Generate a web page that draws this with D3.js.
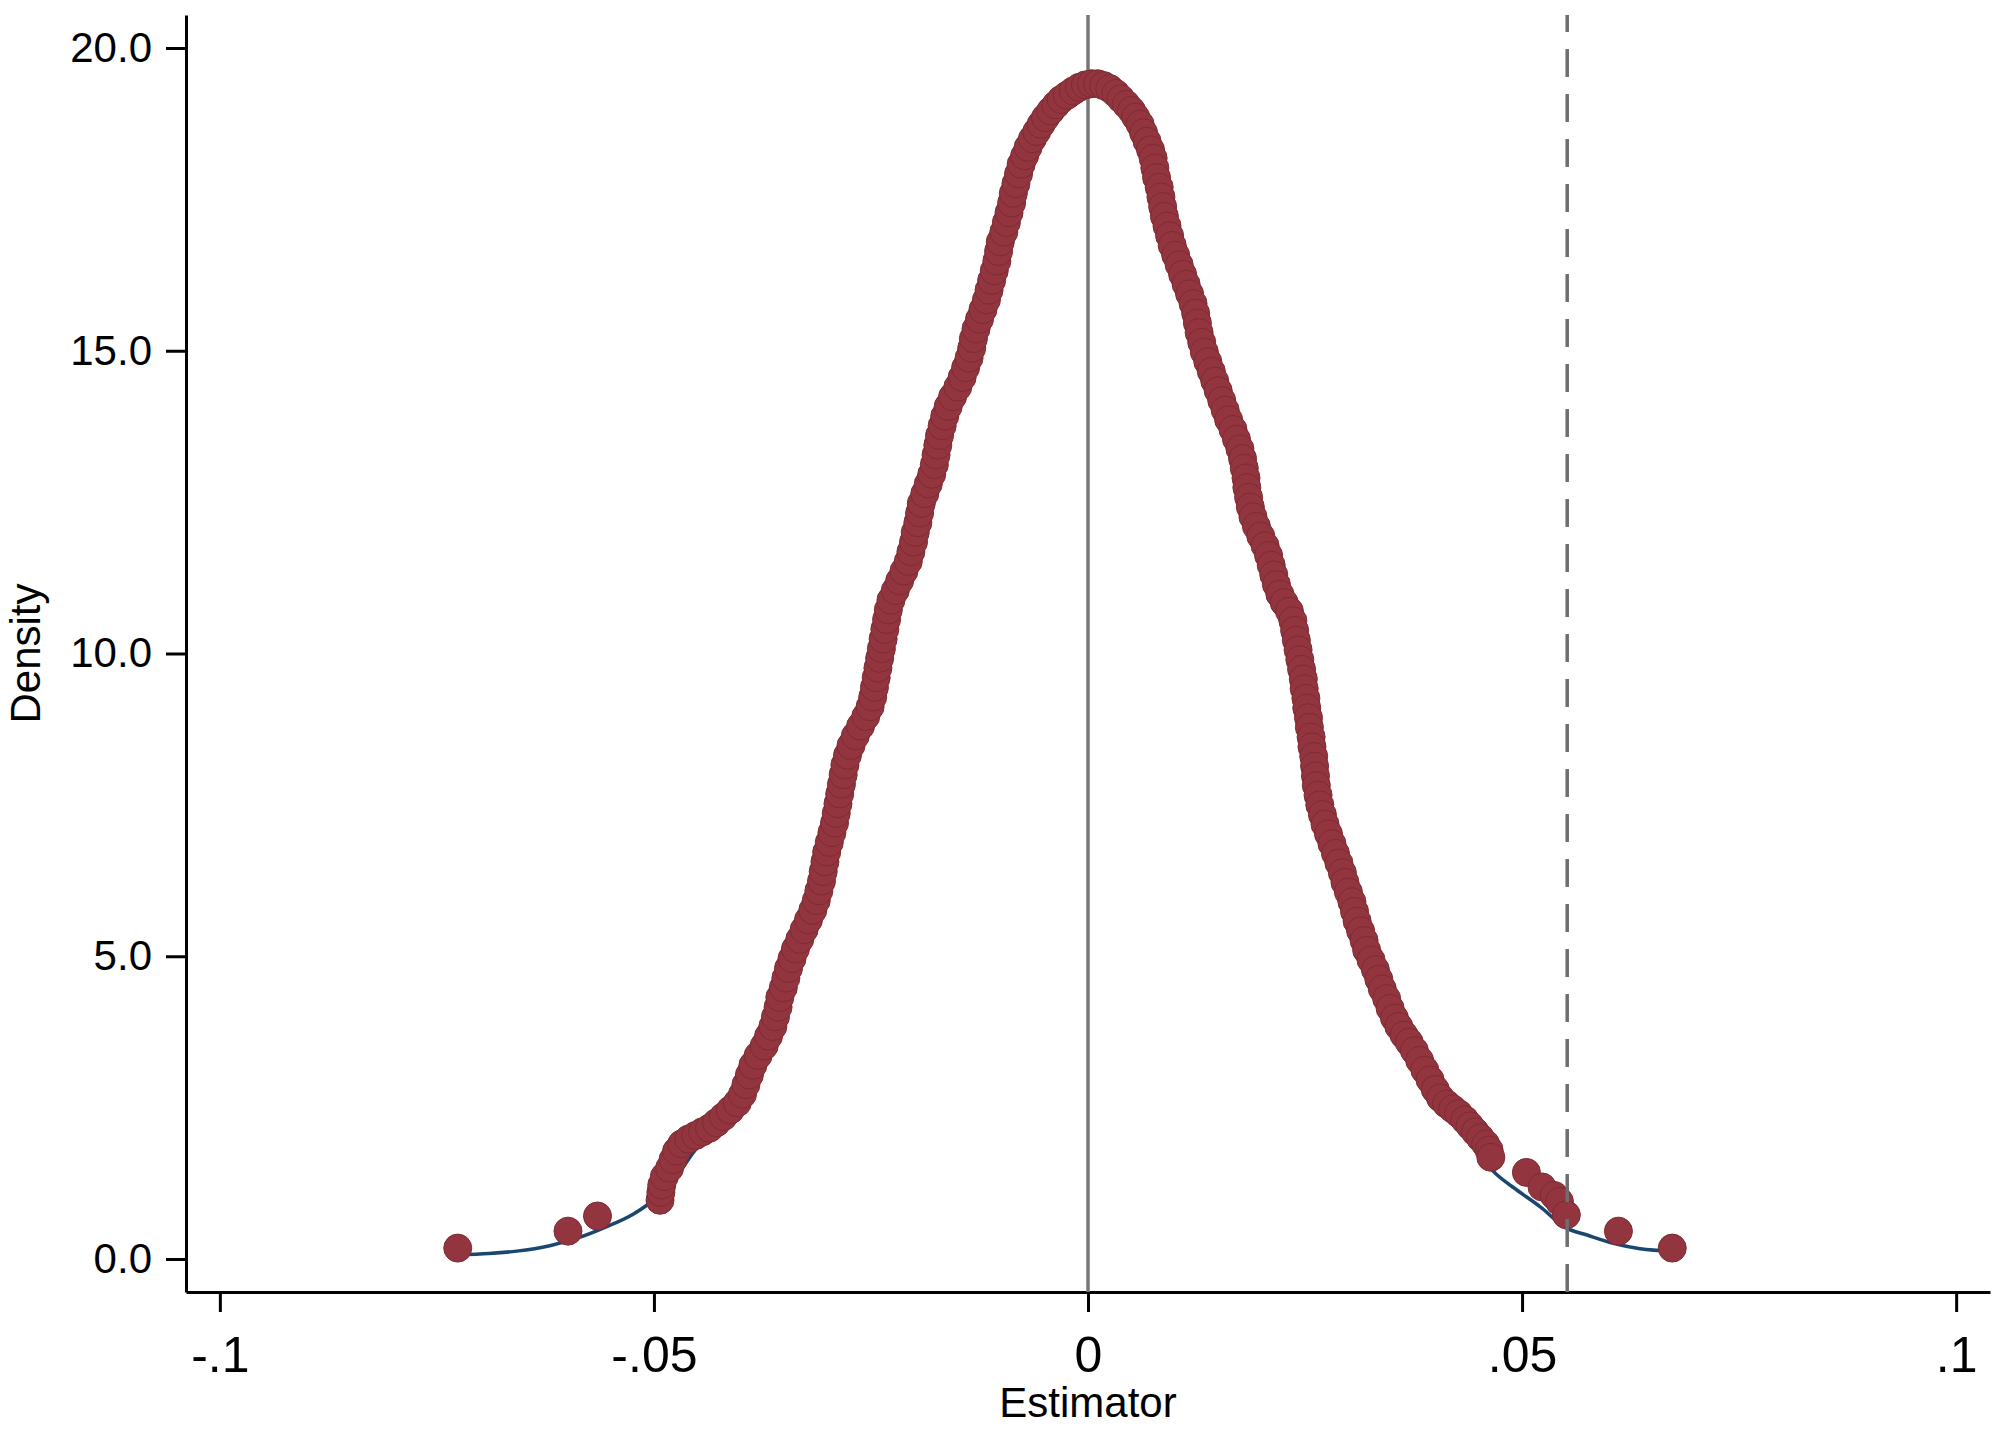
<!DOCTYPE html>
<html>
<head>
<meta charset="utf-8">
<script src="https://cdn.jsdelivr.net/npm/d3@7"></script>
<style>
	body { margin: 0; background: #ffffff; }
	text { font-family: "Liberation Sans", Arial, sans-serif; }
</style>
</head>
<body>
<script>
// estimator values (x) and their density (y)
var estimatorX = [
	-0.0726, -0.0599, -0.0565,
	-0.0493, -0.0492, -0.0491, -0.0488, -0.0482, -0.0478, -0.0474, -0.0468, -0.0460, -0.0452,
	-0.0444, -0.0436, -0.0428, -0.0420, -0.0412, -0.0404, -0.0398, -0.0394, -0.0390, -0.0386,
	-0.0380, -0.0373, -0.0368, -0.0363, -0.0360, -0.0357, -0.0355, -0.0351, -0.0348, -0.0345,
	-0.0341, -0.0337, -0.0332, -0.0327, -0.0322, -0.0317, -0.0313, -0.0310, -0.0307, -0.0305,
	-0.0303, -0.0301, -0.0298, -0.0295, -0.0292, -0.0290, -0.0288, -0.0286, -0.0284, -0.0282,
	-0.0280, -0.0277, -0.0273, -0.0268, -0.0262, -0.0256, -0.0251, -0.0248, -0.0246, -0.0244,
	-0.0242, -0.0240, -0.0238, -0.0236, -0.0234, -0.0232, -0.0230, -0.0227, -0.0222, -0.0217,
	-0.0212, -0.0207, -0.0204, -0.0201, -0.0199, -0.0196, -0.0194, -0.0192, -0.0188, -0.0184,
	-0.0180, -0.0177, -0.0175, -0.0173, -0.0171, -0.0168, -0.0165, -0.0161, -0.0156, -0.0150,
	-0.0145, -0.0141, -0.0137, -0.0134, -0.0132, -0.0129, -0.0125, -0.0121, -0.0117, -0.0114,
	-0.0111, -0.0108, -0.0105, -0.0103, -0.0101, -0.0097, -0.0094, -0.0091, -0.0088, -0.0086,
	-0.0083, -0.0080, -0.0077, -0.0073, -0.0069, -0.0064, -0.0059, -0.0054, -0.0049, -0.0043,
	-0.0037, -0.0031, -0.0024, -0.0017, -0.0010, -0.0003, 0.0004, 0.0011, 0.0018, 0.0025,
	0.0032, 0.0038, 0.0044, 0.0050, 0.0055, 0.0060, 0.0064, 0.0068, 0.0072, 0.0075,
	0.0077, 0.0079, 0.0082, 0.0084, 0.0086, 0.0088, 0.0091, 0.0094, 0.0097, 0.0101,
	0.0105, 0.0109, 0.0113, 0.0117, 0.0121, 0.0124, 0.0126, 0.0128, 0.0131, 0.0134,
	0.0138, 0.0142, 0.0146, 0.0150, 0.0154, 0.0158, 0.0162, 0.0167, 0.0171, 0.0175,
	0.0178, 0.0180, 0.0182, 0.0183, 0.0185, 0.0187, 0.0190, 0.0194, 0.0199, 0.0204,
	0.0208, 0.0211, 0.0214, 0.0217, 0.0221, 0.0226, 0.0232, 0.0236, 0.0238, 0.0240,
	0.0242, 0.0244, 0.0246, 0.0248, 0.0249, 0.0251, 0.0252, 0.0254, 0.0255, 0.0257,
	0.0258, 0.0260, 0.0261, 0.0262, 0.0263, 0.0265, 0.0267, 0.0270, 0.0273, 0.0277,
	0.0281, 0.0285, 0.0289, 0.0293, 0.0296, 0.0300, 0.0304, 0.0307, 0.0310, 0.0314,
	0.0318, 0.0321, 0.0326, 0.0331, 0.0335, 0.0339, 0.0344, 0.0348, 0.0353, 0.0358,
	0.0364, 0.0370, 0.0376, 0.0382, 0.0388, 0.0394, 0.0400, 0.0406, 0.0413, 0.0420,
	0.0427, 0.0434, 0.0440, 0.0446, 0.0452, 0.0458, 0.0462, 0.0464,
	0.0505, 0.0523, 0.0537, 0.0543, 0.0551, 0.0611, 0.0673
];
var densityY = [
	0.18, 0.46, 0.71,
	0.97, 1.10, 1.22, 1.36, 1.50, 1.64, 1.78, 1.90, 1.98, 2.04,
	2.10, 2.16, 2.25, 2.35, 2.46, 2.58, 2.72, 2.88, 3.04, 3.20,
	3.36, 3.52, 3.68, 3.84, 4.00, 4.16, 4.32, 4.48, 4.64, 4.80,
	4.96, 5.12, 5.28, 5.44, 5.60, 5.76, 5.92, 6.08, 6.24, 6.40,
	6.56, 6.72, 6.88, 7.04, 7.20, 7.36, 7.52, 7.68, 7.84, 8.00,
	8.16, 8.32, 8.48, 8.64, 8.80, 8.96, 9.12, 9.28, 9.44, 9.60,
	9.76, 9.92, 10.08, 10.24, 10.40, 10.56, 10.72, 10.88, 11.04, 11.20,
	11.36, 11.52, 11.68, 11.84, 12.00, 12.16, 12.32, 12.48, 12.64, 12.80,
	12.96, 13.12, 13.28, 13.44, 13.60, 13.76, 13.92, 14.08, 14.24, 14.40,
	14.56, 14.72, 14.88, 15.04, 15.20, 15.36, 15.52, 15.68, 15.84, 16.00,
	16.16, 16.32, 16.48, 16.64, 16.80, 16.96, 17.12, 17.28, 17.44, 17.60,
	17.76, 17.92, 18.08, 18.22, 18.36, 18.50, 18.62, 18.74, 18.85, 18.96,
	19.06, 19.15, 19.22, 19.29, 19.35, 19.39, 19.41, 19.41, 19.38, 19.33,
	19.25, 19.16, 19.07, 18.97, 18.86, 18.74, 18.60, 18.46, 18.32, 18.18,
	18.02, 17.86, 17.70, 17.54, 17.38, 17.22, 17.06, 16.90, 16.74, 16.58,
	16.42, 16.26, 16.10, 15.94, 15.78, 15.62, 15.46, 15.30, 15.14, 14.98,
	14.82, 14.66, 14.50, 14.34, 14.18, 14.02, 13.86, 13.70, 13.54, 13.38,
	13.22, 13.06, 12.90, 12.74, 12.58, 12.42, 12.26, 12.10, 11.94, 11.78,
	11.62, 11.46, 11.30, 11.14, 10.98, 10.84, 10.70, 10.54, 10.38, 10.22,
	10.06, 9.90, 9.74, 9.58, 9.42, 9.26, 9.10, 8.94, 8.78, 8.62,
	8.46, 8.30, 8.14, 7.98, 7.82, 7.66, 7.50, 7.34, 7.18, 7.02,
	6.86, 6.70, 6.54, 6.38, 6.22, 6.06, 5.90, 5.74, 5.58, 5.42,
	5.26, 5.10, 4.94, 4.78, 4.62, 4.46, 4.30, 4.14, 3.98, 3.84,
	3.70, 3.58, 3.44, 3.28, 3.12, 2.96, 2.80, 2.66, 2.56, 2.48,
	2.40, 2.30, 2.20, 2.10, 2.00, 1.90, 1.80, 1.68,
	1.43, 1.19, 1.05, 0.95, 0.73, 0.46, 0.18
];
// smooth kernel density line
var curveX = [-0.0726, -0.0690, -0.0658, -0.0620, -0.0585, -0.0555, -0.0524, -0.0507, -0.0480, -0.0455,
	-0.0420, -0.0390, -0.0360, -0.0330, -0.0300, -0.0270, -0.0240, -0.0210, -0.0180, -0.0150,
	-0.0120, -0.0090, -0.0060, -0.0030, 0.0005, 0.0040, 0.0070, 0.0100, 0.0130, 0.0160,
	0.0190, 0.0220, 0.0250, 0.0280, 0.0310, 0.0340, 0.0370, 0.0400, 0.0430, 0.0471,
	0.0494, 0.0521, 0.0551, 0.0574, 0.0605, 0.0636, 0.0673];
var curveY = [0.07, 0.09, 0.13, 0.22, 0.36, 0.53, 0.74, 0.90, 1.25, 1.75,
	2.40, 3.00, 3.90, 5.20, 6.70, 8.50, 10.10, 11.50, 13.00, 14.40,
	15.70, 17.30, 18.55, 19.15, 19.40, 19.10, 18.30, 16.60, 15.20, 13.90,
	12.20, 10.90, 9.30, 7.00, 5.50, 4.40, 3.55, 2.75, 2.10, 1.39,
	1.14, 0.86, 0.51, 0.40, 0.26, 0.17, 0.13];

var xTicks = [-0.1, -0.05, 0, 0.05, 0.1];
var xTickLabels = ["-.1", "-.05", "0", ".05", ".1"];
var yTicks = [0, 5, 10, 15, 20];
var yTickLabels = ["0.0", "5.0", "10.0", "15.0", "20.0"];
var zeroLine = 0;
var dashedLine = 0.0552;

var width = 2000, height = 1432;

var svg = d3.select("body")
	.append("svg")
	.attr("width", width)
	.attr("height", height);

var x = d3.scaleLinear()
	.domain([-0.1039, 0.1039])
	.range([186, 1990]);
var y = d3.scaleLinear()
	.domain([-0.545, 20.545])
	.range([1292, 15]);

var yAxis = svg.append("g")
	.attr("transform", "translate(186,0)")
	.call(d3.axisLeft(y)
		.tickValues(yTicks)
		.tickFormat(function(d, i) { return yTickLabels[i]; })
		.tickSize(20)
		.tickSizeOuter(0)
		.tickPadding(14));
yAxis.selectAll("text")
	.style("font-size", "42px")
	.attr("fill", "#000");

var xAxis = svg.append("g")
	.attr("transform", "translate(0,1292)")
	.call(d3.axisBottom(x)
		.tickValues(xTicks)
		.tickFormat(function(d, i) { return xTickLabels[i]; })
		.tickSize(20)
		.tickSizeOuter(0)
		.tickPadding(24));
xAxis.selectAll("text")
	.style("font-size", "50px")
	.attr("fill", "#000");

svg.selectAll(".domain, .tick line")
	.attr("stroke", "#000")
	.attr("stroke-width", 3);

// reference line at zero sits under the markers
svg.append("line")
	.attr("x1", x(zeroLine))
	.attr("x2", x(zeroLine))
	.attr("y1", y.range()[0])
	.attr("y2", y.range()[1])
	.attr("stroke", "#777777")
	.attr("stroke-width", 3.5);

var line = d3.line()
	.x(function(d) { return x(d[0]); })
	.y(function(d) { return y(d[1]); })
	.curve(d3.curveMonotoneX);

svg.append("path")
	.datum(d3.zip(curveX, curveY))
	.attr("d", line)
	.attr("fill", "none")
	.attr("stroke", "#1a476f")
	.attr("stroke-width", 3.5);

svg.append("g")
	.selectAll("circle")
	.data(d3.zip(estimatorX, densityY))
	.enter()
	.append("circle")
	.attr("cx", function(d) { return x(d[0]); })
	.attr("cy", function(d) { return y(d[1]); })
	.attr("r", 14)
	.attr("fill", "#92353e")
	.attr("stroke", "#7e2b33")
	.attr("stroke-width", 1);

svg.append("line")
	.attr("x1", x(dashedLine))
	.attr("x2", x(dashedLine))
	.attr("y1", y.range()[0])
	.attr("y2", y.range()[1])
	.attr("stroke", "#6e6e6e")
	.attr("stroke-width", 3.5)
	.attr("stroke-dasharray", "28,17");

svg.append("text")
	.attr("x", x(0))
	.attr("y", 1417)
	.attr("text-anchor", "middle")
	.style("font-size", "42px")
	.text("Estimator");

svg.append("text")
	.attr("transform", "translate(40," + ((y.range()[0] + y.range()[1]) / 2) + ") rotate(-90)")
	.attr("text-anchor", "middle")
	.style("font-size", "42px")
	.text("Density");
</script>
</body>
</html>
